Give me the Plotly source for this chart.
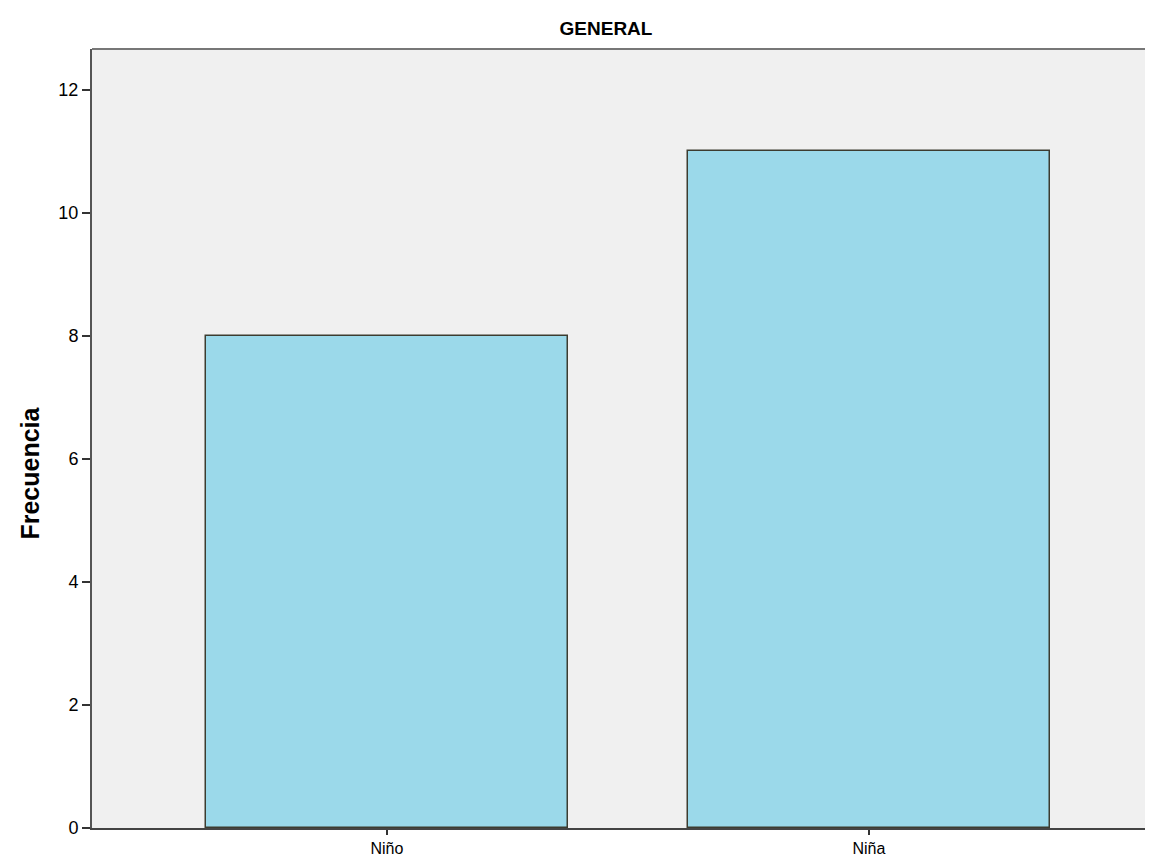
import plotly.graph_objects as go

categories = ["Niño", "Niña"]
values = [8, 11]
y_ticks = [0, 2, 4, 6, 8, 10, 12]

x_pos = list(range(len(categories)))

W, H = 1137, 851  # page has an 8px body margin

fig = go.Figure()
fig.add_trace(go.Bar(
    x=x_pos, y=values, width=0.751,
    marker=dict(color="#9BD9EA", line=dict(color="#3c3c30", width=1.5)),
    hoverinfo="x+y",
))

fig.update_layout(
    width=W, height=H,
    margin=dict(l=84, r=0, t=41, b=31),
    paper_bgcolor="white",
    plot_bgcolor="#F0F0F0",
    font=dict(family="Liberation Sans, Arial, sans-serif", color="black"),
    showlegend=False,
    title=dict(text="<b>GENERAL</b>", x=598/W, xanchor="center",
               y=1-20/H, yanchor="middle", font=dict(size=19, color="black")),
    bargap=0,
)
fig.update_xaxes(
    range=[-0.612, 1.573], automargin=False,
    tickmode="array", tickvals=x_pos, ticktext=categories,
    ticks="outside", ticklen=5, tickwidth=1.5, tickcolor="#333",
    tickfont=dict(size=16), showgrid=False, zeroline=False,
    showline=True, linecolor="#444", linewidth=2, mirror=False,
)
fig.update_yaxes(
    range=[0, 12.66], automargin=False,
    tickmode="array", tickvals=y_ticks,
    ticks="outside", ticklen=8, tickwidth=1.5, tickcolor="#333",
    tickfont=dict(size=18), showgrid=False, zeroline=False,
    showline=True, linecolor="#555", linewidth=2,
)
fig.add_annotation(
    text="<b>Frecuencia</b>", textangle=-90, showarrow=False,
    xref="paper", yref="paper", x=-62/1053, y=0.455,
    xanchor="center", yanchor="middle", font=dict(size=25, color="black"),
)
# top border of plot area
fig.add_shape(type="line", xref="paper", yref="paper", x0=0, x1=1, y0=1, y1=1,
              line=dict(color="#777", width=2))

fig.write_html("out.html")
